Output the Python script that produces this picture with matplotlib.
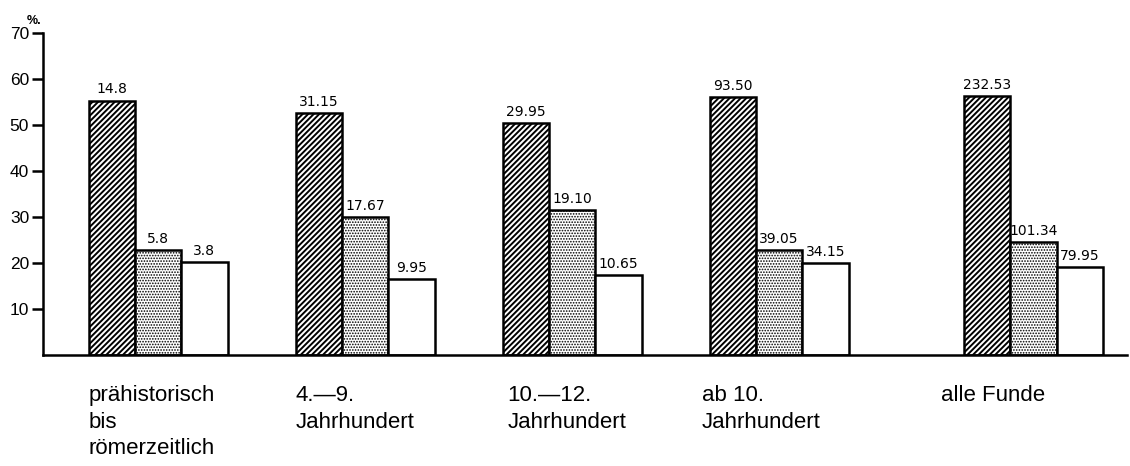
import matplotlib
matplotlib.use("Agg")
import matplotlib.pyplot as plt
import matplotlib.transforms as mtransforms
import numpy as np

# ---- data ----
categories = ["prähistorisch\nbis\nrömerzeitlich", "4.—9.\nJahrhundert",
              "10.—12.\nJahrhundert", "ab 10.\nJahrhundert", "alle Funde"]
hatched_vals = [55.3, 52.5, 50.3, 56.0, 56.2]
dotted_vals = [22.7, 29.9, 31.4, 22.7, 24.5]
white_vals = [20.1, 16.4, 17.3, 19.9, 19.0]
hatched_labels = ["14.8", "31.15", "29.95", "93.50", "232.53"]
dotted_labels = ["5.8", "17.67", "19.10", "39.05", "101.34"]
white_labels = ["3.8", "9.95", "10.65", "34.15", "79.95"]
yticks = [10, 20, 30, 40, 50, 60, 70]

# ---- layout ----
plt.rcParams['hatch.linewidth'] = 1.4
W, H = 1130, 466
fig = plt.figure(figsize=(W / 100, H / 100), dpi=100)
ax = fig.add_axes([43 / W, (H - 354.5) / H, (1127 - 43) / W, (354.5 - 33) / H])

group_x = np.array([0, 1, 2, 3, 4.23])
bw = 0.2237
lw = 1.8

b1 = ax.bar(group_x - bw, hatched_vals, bw, facecolor="white", edgecolor="black",
            hatch="//////", linewidth=lw, zorder=2)
b2 = ax.bar(group_x, dotted_vals, bw, facecolor="white", edgecolor="black",
            hatch="......", linewidth=lw, zorder=2)
b3 = ax.bar(group_x + bw, white_vals, bw, facecolor="white", edgecolor="black",
            linewidth=lw, zorder=2)
for r in b2:
    if hasattr(r, "set_hatch_linewidth"):
        r.set_hatch_linewidth(0.8)

vfont = dict(family=["Liberation Sans Narrow", "DejaVu Sans"], fontsize=10)
for bars, labs in ((b1, hatched_labels), (b2, dotted_labels), (b3, white_labels)):
    for rect, lab in zip(bars, labs):
        ax.annotate(lab, (rect.get_x() + rect.get_width() / 2, rect.get_height()),
                    xytext=(0, 3), textcoords="offset points",
                    ha="center", va="bottom", **vfont)

ax.set_xlim(-0.556, 4.681)
ax.set_ylim(0, 70)
ax.set_yticks(yticks)
ax.set_yticklabels([str(t) for t in yticks], family="Liberation Sans", fontsize=12.5)
ax.set_xticks([])
for s in ("top", "right"):
    ax.spines[s].set_visible(False)
ax.spines["left"].set_linewidth(1.8)
ax.spines["bottom"].set_linewidth(1.8)
ax.tick_params(axis="y", direction="out", length=8, width=1.8, pad=2)

ax.text(-0.008, 1.02, "%.", transform=ax.transAxes, ha="center", va="bottom",
        family="Liberation Sans", fontsize=9, fontweight="bold")

# category labels, left aligned near hatched bar
px = 1 / 207.0
label_offsets = [0, 0, 5, -8, -23]
trans = mtransforms.blended_transform_factory(ax.transData, ax.transAxes)
for gx, cat, off in zip(group_x, categories, label_offsets):
    ax.text(gx - 1.5 * bw + off * px, -0.095, cat, transform=trans,
            ha="left", va="top", family="Liberation Sans", fontsize=16,
            linespacing=1.35)

fig.savefig("out.png", dpi=100)
